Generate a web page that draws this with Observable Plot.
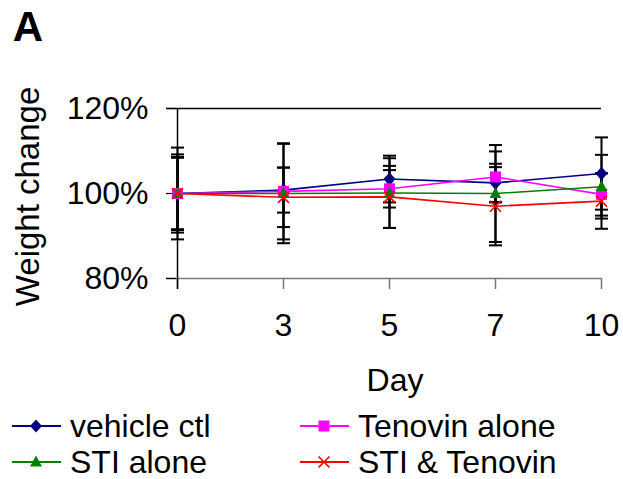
<!DOCTYPE html>
<html>
<head>
<meta charset="utf-8">
<script src="https://cdn.jsdelivr.net/npm/d3@7"></script>
<script src="https://cdn.jsdelivr.net/npm/@observablehq/plot@0.6"></script>
<style>
  body { margin: 0; background: #fff; font-family: "Liberation Sans", Arial, sans-serif; }
  #wrap { position: relative; width: 623px; height: 479px; overflow: hidden; }
  #wrap > svg { position: absolute; left: 0; top: 0; }
  .item { position: absolute; display: flex; align-items: center; font-size: 32px; color: #000; line-height: 1; }
  .item svg { margin-right: 9px; flex: none; }
</style>
</head>
<body>
<div id="wrap"></div>
<script>
// Study days (categorical x axis)
const days = ["0", "3", "5", "7", "10"];
// Weight relative to day 0, in percent
const vehicleCtl   = [100, 100.8, 103.4, 102.5, 104.7];
const tenovinAlone = [100, 100.5, 101.1, 103.9, 99.8];
const stiAlone     = [100, 100.0, 100.1, 100.0, 101.6];
const stiTenovin   = [100, 99.1, 99.2, 97.0, 98.2];
// Error bar half-widths, in percent
const vehicleErr    = [10.8, 5.3, 5.5, 4.5, 8.5];
const tenovinErr    = [9.2, 11.3, 4.4, 6.0, 5.0];
const stiErr        = [8.6, 11.7, 8.2, 11.4, 7.5];
const stiTenovinErr = [8.4, 7.0, 7.3, 9.2, 6.5];
const yTicks = [80, 100, 120];

const seriesNames = ["vehicle ctl", "Tenovin alone", "STI alone", "STI & Tenovin"];
const seriesColors = ["#000080", "#FF00FF", "#008000", "#FF0000"];

// Custom marker shapes; r from Plot is recovered from the symbol size
const rOf = size => Math.sqrt(size / Math.PI);
const diamondSym = { draw(c, size) { const r = rOf(size); c.moveTo(0, -r * 1.15); c.lineTo(r, 0); c.lineTo(0, r * 1.15); c.lineTo(-r, 0); c.closePath(); } };
const squareSym  = { draw(c, size) { const r = rOf(size); c.rect(-r, -r, 2 * r, 2 * r); } };
const triSym     = { draw(c, size) { const r = rOf(size); c.moveTo(0, -r * 1.2); c.lineTo(r * 1.05, r * 0.8); c.lineTo(-r * 1.05, r * 0.8); c.closePath(); } };
const crossSym   = { draw(c, size) { const r = rOf(size); c.moveTo(-r, -r); c.lineTo(r, r); c.moveTo(r, -r); c.lineTo(-r, r); } };
const capSym     = { draw(c, size) { const r = rOf(size); c.moveTo(-r, 0); c.lineTo(r, 0); } };
const symbols = [diamondSym, squareSym, triSym, crossSym];

const seriesValues = [vehicleCtl, tenovinAlone, stiAlone, stiTenovin];
const seriesErrs = [vehicleErr, tenovinErr, stiErr, stiTenovinErr];

const rows = [];
seriesNames.forEach((name, s) => {
  days.forEach((d, i) => {
    rows.push({ series: name, s, day: d, value: seriesValues[s][i], err: seriesErrs[s][i] });
  });
});
const bySeries = s => rows.filter(r => r.s === s);

const marks = [
  // plot area top line and x axis line
  Plot.ruleY([120], { stroke: "#000", strokeWidth: 1.5, insetLeft: -10 }),
  Plot.ruleY([80], { stroke: "#777", strokeWidth: 1.5, insetLeft: -10 }),
  Plot.axisY({ ticks: yTicks, tickFormat: d => d + "%", tickSize: 10, tickPadding: 18, fontSize: 32, stroke: "#000", strokeWidth: 1.2, label: null }),
  Plot.axisX({ tickSize: 11, tickPadding: 24, fontSize: 32, stroke: "#777", strokeWidth: 1.5, label: null }),
  Plot.ruleX(["0"], { y1: 120, y2: 80, stroke: "#000", strokeWidth: 1.5, insetBottom: -11 }),
  // error bars with caps
  Plot.ruleX(rows, { x: "day", y1: d => d.value - d.err, y2: d => d.value + d.err, stroke: "#000", strokeWidth: 2 }),
  Plot.dot(rows, { x: "day", y: d => d.value + d.err, symbol: () => capSym, r: 6.5, stroke: "#000", strokeWidth: 2, fill: "none" }),
  Plot.dot(rows, { x: "day", y: d => d.value - d.err, symbol: () => capSym, r: 6.5, stroke: "#000", strokeWidth: 2, fill: "none" })
];

seriesNames.forEach((name, s) => {
  marks.push(Plot.line(bySeries(s), { x: "day", y: "value", stroke: seriesColors[s], strokeWidth: 1.6 }));
});
seriesNames.forEach((name, s) => {
  const isCross = s === 3;
  marks.push(Plot.dot(bySeries(s), {
    x: "day", y: "value", symbol: () => symbols[s], r: s === 0 ? 6 : 5.5,
    fill: isCross ? "none" : seriesColors[s], stroke: isCross ? seriesColors[s] : "none", strokeWidth: 1.6
  }));
});

// axis titles and panel letter
marks.push(Plot.text(["Day"], { frameAnchor: "bottom", dx: 6, dy: 112, fontSize: 32, fill: "#000" }));
marks.push(Plot.text(["Weight change"], { frameAnchor: "left", textAnchor: "middle", dx: -148, dy: 3, rotate: -90, fontSize: 33, fill: "#000" }));
marks.push(Plot.text(["A"], { frameAnchor: "top-left", dx: -148.5, dy: -97, fontSize: 42, fontWeight: "bold", fill: "#000", textAnchor: "middle" }));

const chart = Plot.plot({
  width: 623,
  height: 400,
  marginLeft: 176,
  marginRight: 22,
  marginTop: 108,
  marginBottom: 122,
  style: { fontFamily: "'Liberation Sans', Arial, sans-serif", color: "#000", background: "#fff", overflow: "visible" },
  x: { type: "point", domain: days, padding: 0 },
  y: { domain: [80, 120] },
  symbol: { type: "identity" },
  marks
});
document.getElementById("wrap").appendChild(chart);

// legend: two columns, two rows
const legendPos = [[12, 425], [300, 425], [12, 461], [300, 461]];
const swatchPaths = [
  '<path d="M24,6.6 L30,13 L24,19.4 L18,13 Z" fill="#000080"/>',
  '<rect x="18.5" y="7.5" width="11" height="11" fill="#FF00FF"/>',
  '<path d="M24,6.5 L30,17.5 L18,17.5 Z" fill="#008000"/>',
  '<path d="M18.5,7.5 L29.5,18.5 M29.5,7.5 L18.5,18.5" stroke="#FF0000" stroke-width="1.6" fill="none"/>'
];
seriesNames.forEach((name, s) => {
  const el = document.createElement("div");
  el.className = "item";
  el.style.left = legendPos[s][0] + "px";
  el.style.top = (legendPos[s][1] - 15) + "px";
  el.innerHTML = `<svg width="49" height="26" viewBox="0 0 49 26"><line x1="0" y1="13" x2="49" y2="13" stroke="${seriesColors[s]}" stroke-width="1.8"/>${swatchPaths[s]}</svg><span>${name}</span>`;
  document.getElementById("wrap").appendChild(el);
});
</script>
</body>
</html>
